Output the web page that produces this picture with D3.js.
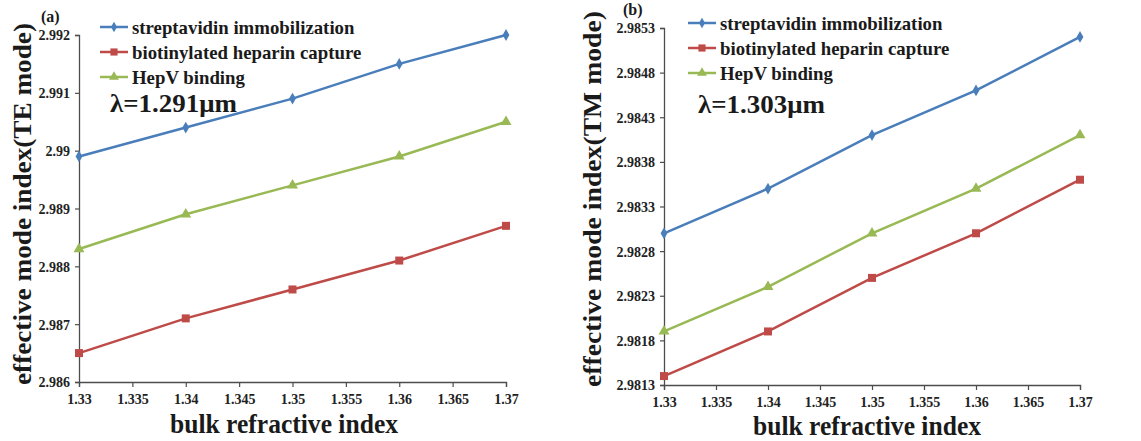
<!DOCTYPE html>
<html>
<head>
<meta charset="utf-8">
<script src="https://cdn.jsdelivr.net/npm/d3@7"></script>
<style>
  html, body { margin: 0; padding: 0; background: #fff; }
  svg text { font-family: "Liberation Serif", "DejaVu Serif", serif; }
</style>
</head>
<body>
<svg id="chart" width="1141" height="441"></svg>
<script>
const bulkIndex = [1.33, 1.34, 1.35, 1.36, 1.37];
const xTicks = [1.33, 1.335, 1.34, 1.345, 1.35, 1.355, 1.36, 1.365, 1.37];
const seriesNames = ["streptavidin immobilization", "biotinylated heparin capture", "HepV binding"];

// panel (a) TE mode, lambda = 1.291um
const teStreptavidin = [2.9899, 2.9904, 2.9909, 2.9915, 2.9920];
const teHeparin = [2.9865, 2.9871, 2.9876, 2.9881, 2.9887];
const teHepV = [2.9883, 2.9889, 2.9894, 2.9899, 2.9905];
const teTicks = [2.986, 2.987, 2.988, 2.989, 2.99, 2.991, 2.992];

// panel (b) TM mode, lambda = 1.303um
const tmStreptavidin = [2.9830, 2.9835, 2.9841, 2.9846, 2.9852];
const tmHeparin = [2.9814, 2.9819, 2.9825, 2.9830, 2.9836];
const tmHepV = [2.9819, 2.9824, 2.9830, 2.9835, 2.9841];
const tmTicks = [2.9813, 2.9818, 2.9823, 2.9828, 2.9833, 2.9838, 2.9843, 2.9848, 2.9853];

const colors = ["#4a7ebb", "#be4b48", "#98b954"];
const markers = [d3.symbolDiamond, d3.symbolSquare, d3.symbolTriangle];
const markerSize = [40, 64, 52];
const FONT = '"Liberation Serif", "DejaVu Serif", serif';

const svg = d3.select("#chart");

const panels = [
  {
    tag: "(a)", lambda: "λ=1.291μm", ylabel: "effective mode index(TE mode)",
    series: [teStreptavidin, teHeparin, teHepV], yTicks: teTicks, yFmt: d => String(+d.toFixed(3)),
    left: 79, right: 506, top: 35, bottom: 382,
    tagPos: [41, 22], legendX: 100, legendY: 27, lambdaPos: [110, 112],
    ylabelPos: [31, 204], ylabelLen: 362, xlabelPos: [284, 433]
  },
  {
    tag: "(b)", lambda: "λ=1.303μm", ylabel: "effective mode index(TM mode)",
    series: [tmStreptavidin, tmHeparin, tmHepV], yTicks: tmTicks, yFmt: d => d.toFixed(4),
    left: 664, right: 1080, top: 28, bottom: 385,
    tagPos: [623, 15], legendX: 688, legendY: 23, lambdaPos: [698, 113],
    ylabelPos: [601, 199], ylabelLen: 376, xlabelPos: [867, 435]
  }
];

panels.forEach(p => {
  const x = d3.scaleLinear().domain([1.33, 1.37]).range([p.left, p.right]);
  const y = d3.scaleLinear().domain([p.yTicks[0], p.yTicks[p.yTicks.length - 1]]).range([p.bottom, p.top]);
  const g = svg.append("g");

  const xAxis = g.append("g").attr("transform", `translate(0,${p.bottom})`)
    .call(d3.axisBottom(x).tickValues(xTicks).tickSize(5).tickPadding(3).tickFormat(d => String(+d.toFixed(3))));
  const yAxis = g.append("g").attr("transform", `translate(${p.left},0)`)
    .call(d3.axisLeft(y).tickValues(p.yTicks).tickSize(4).tickPadding(5).tickFormat(p.yFmt));
  [xAxis, yAxis].forEach(a => {
    a.attr("font-family", null);
    a.select(".domain").attr("stroke", "#4d4d4d").attr("stroke-width", 1.3);
    a.selectAll(".tick line").attr("stroke", "#4d4d4d").attr("stroke-width", 1.2);
    a.selectAll(".tick text").attr("fill", "#222").attr("font-size", 14).attr("font-weight", "bold")
      .style("font-family", FONT);
  });
  xAxis.selectAll(".tick text").attr("dy", "1.0em");
  yAxis.selectAll(".tick text").attr("dy", "0.35em");

  const line = d3.line().x((d, i) => x(bulkIndex[i])).y(d => y(d));
  p.series.forEach((vals, s) => {
    g.append("path").datum(vals).attr("d", line)
      .attr("fill", "none").attr("stroke", colors[s]).attr("stroke-width", 2.5);
    g.selectAll(null).data(vals).enter().append("path")
      .attr("d", d3.symbol().type(markers[s]).size(markerSize[s]))
      .attr("transform", (d, i) => `translate(${x(bulkIndex[i])},${y(d)})`)
      .attr("fill", colors[s]);
  });

  // legend
  seriesNames.forEach((name, s) => {
    const ly = p.legendY + s * 25;
    g.append("line").attr("x1", p.legendX).attr("x2", p.legendX + 28).attr("y1", ly).attr("y2", ly)
      .attr("stroke", colors[s]).attr("stroke-width", 2.5);
    g.append("path").attr("d", d3.symbol().type(markers[s]).size(markerSize[s] * 0.8)())
      .attr("transform", `translate(${p.legendX + 14},${ly})`).attr("fill", colors[s]);
    g.append("text").attr("x", p.legendX + 32).attr("y", ly).attr("dy", "0.35em")
      .attr("font-size", 18.8).attr("font-weight", "bold").attr("fill", "#1a1a1a")
      .style("font-family", FONT).text(name);
  });

  g.append("text").attr("x", p.lambdaPos[0]).attr("y", p.lambdaPos[1])
    .attr("font-size", 26).attr("font-weight", "bold").attr("fill", "#1a1a1a")
    .attr("textLength", 127).attr("lengthAdjust", "spacingAndGlyphs")
    .style("font-family", FONT).text(p.lambda);
  g.append("text").attr("x", p.tagPos[0]).attr("y", p.tagPos[1])
    .attr("font-size", 16).attr("font-weight", "bold").attr("fill", "#1a1a1a")
    .style("font-family", FONT).text(p.tag);

  g.append("text").attr("transform", `translate(${p.ylabelPos[0]},${p.ylabelPos[1]}) rotate(-90)`)
    .attr("text-anchor", "middle").attr("font-size", 26).attr("font-weight", "bold").attr("fill", "#1a1a1a")
    .attr("textLength", p.ylabelLen).attr("lengthAdjust", "spacingAndGlyphs")
    .style("font-family", FONT).text(p.ylabel);
  g.append("text").attr("x", p.xlabelPos[0]).attr("y", p.xlabelPos[1])
    .attr("text-anchor", "middle").attr("font-size", 28).attr("font-weight", "bold").attr("fill", "#1a1a1a")
    .attr("textLength", 228).attr("lengthAdjust", "spacingAndGlyphs")
    .style("font-family", FONT).text("bulk refractive index");
});
</script>
</body>
</html>
